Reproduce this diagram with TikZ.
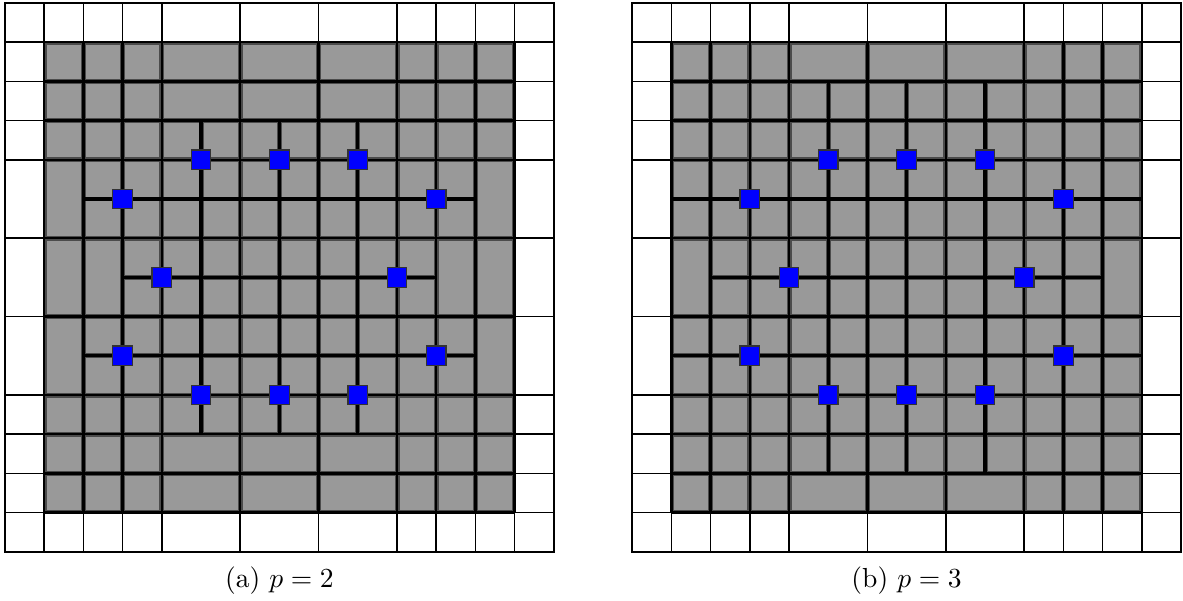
\documentclass[tikz,border=0pt]{standalone}
\definecolor{MeshGray}{RGB}{153,153,153}
\definecolor{CellEdge}{RGB}{75,75,75}
\definecolor{PointBlue}{RGB}{0,0,255}

% full knot lines inside the active region
\newcommand{\knotlines}[1]{%
  \foreach \k in {1,2,3,4,6,8,10,11,12,13} {
    \draw[#1] (\k,1) -- (\k,13);
    \draw[#1] (1,\k) -- (13,\k);
  }}
% local refinement lines, #2 = extension in knots
\newcommand{\refinelines}[2]{%
  \draw[#1] ({3-#2},5) -- ({11+#2},5);
  \draw[#1] ({3-#2},9) -- ({11+#2},9);
  \draw[#1] ({4-#2},7) -- ({10+#2},7);
  \foreach \k in {5,7,9}
    \draw[#1] (\k,{4-#2}) -- (\k,{10+#2});}
\newcommand{\tmesh}[1]{%
  % white boundary layer
  \foreach \k in {0,1,2,3,4,6,8,10,11,12,13,14} {
    \draw[outer] (\k,0) -- (\k,14);
    \draw[outer] (0,\k) -- (14,\k);
  }
  % active cells
  \fill[MeshGray] (1,1) rectangle (13,13);
  \begin{scope}
    \clip (1,1) rectangle (13,13);
    \knotlines{edge}
    \refinelines{edge}{#1}
  \end{scope}
  \knotlines{mesh}
  \refinelines{refine}{#1}
  \draw[outer] (0,0) rectangle (14,14);
}

\begin{document}
\begin{tikzpicture}[x=0.5cm, y=0.5cm,
                outer/.style={black, line width=0.6pt},
                edge/.style={CellEdge, line width=1.8pt},
                mesh/.style={black, line width=0.9pt},
                refine/.style={black, line width=1.2pt},
                pt/.style={draw=black!80, fill=PointBlue, line width=0.4pt, minimum size=0.25cm, inner sep=0pt}
            ]
                \useasboundingbox (-0.128,-1.23) rectangle (30.05,14.077);

                % Panel (a): p = 2
                \begin{scope}
                    \tmesh{1}
                    \foreach \px/\py [count=\i] in {5/10,7/10,9/10,3/9,11/9,4/7,10/7,3/5,11/5,5/4,7/4,9/4}
                        \node[pt] (a\i) at (\px,\py) {};
                    \node (capa) at (7,-0.74) {(a) $p=2$};
                \end{scope}

                % Panel (b): p = 3
                \begin{scope}[xshift=8cm]
                    \tmesh{2}
                    \foreach \px/\py [count=\i] in {5/10,7/10,9/10,3/9,11/9,4/7,10/7,3/5,11/5,5/4,7/4,9/4}
                        \node[pt] (b\i) at (\px,\py) {};
                    \node (capb) at (7,-0.74) {(b) $p=3$};
                \end{scope}
            \end{tikzpicture}
\end{document}
